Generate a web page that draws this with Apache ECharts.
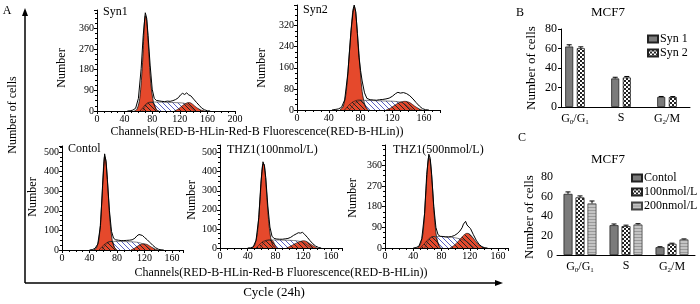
<!DOCTYPE html>
<html>
<head>
<meta charset="utf-8">
<script src="https://cdn.jsdelivr.net/npm/echarts@6/dist/echarts.min.js"></script>
<style>
html, body { margin: 0; padding: 0; background: #fff; }
#chart { width: 700px; height: 304px; }
</style>
</head>
<body>
<div id="chart"></div>
<script>
// ---- histogram data, [channel, count] ----
const syn1Outline = [[44,0],[48,1],[52,4],[56,12],[60,55],[64,185],[67,330],[70,428],[72,405],[74,330],[77,200],[80,95],[83,55],[86,46],[90,44],[94,42],[98,41],[102,43],[106,42],[110,45],[114,50],[118,58],[121,70],[124,77],[127,72],[130,79],[133,70],[136,66],[140,52],[144,38],[148,25],[152,12],[156,5],[160,1],[164,0]]
const syn1G1 = [[54,0],[58,8],[62,55],[66,210],[70,415],[72,395],[75,260],[78,120],[82,35],[86,6],[90,0]]
const syn1Tail = [[62,0],[66,12],[70,28],[76,38],[80,38],[83,30],[86,6],[88,0]]
const syn1S = [[66,0],[72,28],[78,38],[88,39],[98,38],[108,37],[118,36],[126,34],[132,26],[138,10],[142,0]]
const syn1G2 = [[112,0],[118,9],[124,24],[130,35],[134,37],[138,31],[144,16],[150,5],[156,0]]

const syn2Outline = [[44,0],[48,2],[52,4],[56,10],[60,38],[64,140],[68,300],[71,385],[72,398],[74,372],[76,290],[78,200],[80,150],[82,110],[85,65],[88,44],[92,39],[96,38],[100,37],[104,39],[108,40],[112,42],[116,45],[120,52],[124,62],[127,67],[130,64],[134,66],[138,62],[142,54],[146,42],[150,28],[154,15],[158,5],[162,1],[166,0]]
const syn2G1 = [[54,0],[58,12],[62,70],[66,220],[70,370],[72,392],[74,365],[78,215],[82,70],[86,15],[90,0]]
const syn2Tail = [[60,0],[64,14],[70,30],[78,38],[82,36],[86,14],[89,0]]
const syn2S = [[66,0],[74,28],[82,37],[92,36],[102,35],[112,34],[122,33],[130,30],[136,22],[142,6],[146,0]]
const syn2G2 = [[112,0],[118,8],[124,20],[130,30],[136,33],[142,28],[148,15],[154,4],[158,0]]

const contolOutline = [[40,0],[44,2],[48,8],[52,30],[56,125],[59,330],[62,490],[64,450],[66,360],[69,200],[72,95],[75,60],[78,52],[82,50],[86,48],[90,48],[94,49],[98,50],[102,52],[106,60],[109,72],[112,79],[114,72],[117,74],[120,64],[124,52],[128,38],[132,24],[136,12],[140,4],[144,1],[148,0]]
const contolG1 = [[46,0],[50,10],[54,60],[58,250],[62,478],[64,455],[67,300],[70,140],[73,50],[76,14],[80,0]]
const contolTail = [[54,0],[58,16],[63,32],[68,42],[73,44],[76,16],[79,0]]
const contolS = [[58,0],[64,28],[70,43],[80,44],[90,43],[100,42],[108,40],[114,36],[120,27],[126,10],[130,0]]
const contolG2 = [[100,0],[106,10],[112,24],[118,32],[124,28],[130,15],[136,4],[140,0]]

const thz100Outline = [[40,0],[44,1],[48,6],[52,40],[56,160],[59,340],[62,452],[64,430],[66,370],[69,220],[72,110],[75,62],[78,50],[82,47],[86,46],[90,46],[94,48],[98,50],[102,56],[106,66],[110,74],[113,80],[116,78],[119,82],[122,72],[126,56],[130,38],[134,22],[138,10],[142,3],[146,0]]
const thz100G1 = [[46,0],[50,15],[54,80],[58,270],[62,440],[64,438],[67,300],[70,150],[73,55],[76,15],[80,0]]
const thz100Tail = [[52,0],[57,18],[62,34],[70,42],[76,38],[80,10],[82,0]]
const thz100S = [[58,0],[64,30],[72,42],[82,42],[92,41],[102,40],[110,38],[118,32],[124,20],[130,6],[134,0]]
const thz100G2 = [[96,0],[102,10],[108,22],[114,32],[120,38],[124,36],[130,22],[136,8],[140,0]]

const thz500Outline = [[40,0],[44,2],[48,8],[52,40],[56,150],[59,320],[62,408],[64,390],[66,320],[69,180],[72,90],[75,58],[78,51],[82,50],[86,48],[90,48],[94,50],[98,54],[102,62],[106,74],[109,88],[111,104],[113,112],[114,116],[116,100],[118,104],[121,84],[125,58],[129,34],[133,16],[137,6],[141,1],[145,0]]
const thz500G1 = [[46,0],[50,15],[54,70],[58,250],[62,395],[64,380],[67,270],[70,130],[73,45],[76,12],[80,0]]
const thz500Tail = [[50,0],[56,20],[62,40],[68,50],[72,46],[76,14],[78,0]]
const thz500S = [[56,0],[62,34],[68,50],[80,50],[90,48],[100,44],[108,38],[116,28],[122,12],[126,0]]
const thz500G2 = [[92,0],[98,12],[104,30],[110,52],[116,64],[120,60],[126,38],[132,15],[138,3],[142,0]]

// ---- bar data (panels B and C) ----
const phaseCats = ['G0/G1', 'S', 'G2/M']
const syn1Vals = [62, 29.3, 10.3]
const syn1Err = [1.8, 1.2, 0.5]
const syn2Vals = [60.3, 30.3, 10.2]
const syn2Err = [1.4, 1.0, 0.5]
const contolVals = [62.7, 30.6, 8]
const contolErr = [2, 1.2, 0.5]
const thz100Vals = [59.1, 29.6, 11.5]
const thz100Err = [1.5, 1.0, 0.6]
const thz200Vals = [52.9, 31.3, 16]
const thz200Err = [2.5, 0.8, 0.5]

const SERIF = "'Liberation Serif', 'Times New Roman', serif"
const RED = '#e5492c'

// diagonal hatch pattern
function hatch(bg, fg, size) {
  const c = document.createElement('canvas')
  c.width = c.height = size
  const g = c.getContext('2d')
  if (bg) { g.fillStyle = bg; g.fillRect(0, 0, size, size) }
  g.strokeStyle = fg
  g.lineWidth = 1
  g.beginPath()
  for (let x0 = -size; x0 <= size; x0 += size) {
    g.moveTo(x0, 0)
    g.lineTo(x0 + size, size)
  }
  g.stroke()
  return { image: c, repeat: 'repeat' }
}
function checker() {
  const c = document.createElement('canvas')
  c.width = c.height = 4
  const g = c.getContext('2d')
  g.fillStyle = '#fff'; g.fillRect(0, 0, 4, 4)
  g.fillStyle = '#222'; g.fillRect(0, 0, 2, 2); g.fillRect(2, 2, 2, 2)
  return { image: c, repeat: 'repeat' }
}
function stripes() {
  const c = document.createElement('canvas')
  c.width = c.height = 3
  const g = c.getContext('2d')
  g.fillStyle = '#c4c4c4'; g.fillRect(0, 0, 3, 3)
  g.fillStyle = '#9a9a9a'; g.fillRect(0, 0, 3, 1)
  return { image: c, repeat: 'repeat' }
}
const redHatch = hatch(RED, '#222', 5)
const blueHatch = hatch('#fff', '#5862c4', 5)

const histPanels = [
  { label: 'Syn1', lx: 103, ly: 12, nx: 62, ny: 68, grid: { left: 97, top: 10, width: 138, height: 101 }, xMax: 200, yMax: 440, yStep: 90, outline: syn1Outline, g1: syn1G1, tail: syn1Tail, s: syn1S, g2: syn1G2 },
  { label: 'Syn2', lx: 303, ly: 10, nx: 262, ny: 68, grid: { left: 297, top: 5, width: 143, height: 105 }, xMax: 180, yMax: 398, yStep: 80, outline: syn2Outline, g1: syn2G1, tail: syn2Tail, s: syn2S, g2: syn2G2 },
  { label: 'Contol', lx: 68, ly: 149, nx: 33, ny: 197, grid: { left: 62, top: 146, width: 121, height: 104 }, xMax: 176, yMax: 530, yStep: 100, outline: contolOutline, g1: contolG1, tail: contolTail, s: contolS, g2: contolG2 },
  { label: 'THZ1(100nmol/L)', lx: 227, ly: 150, nx: 192, ny: 200, grid: { left: 220, top: 145, width: 122, height: 103 }, xMax: 176, yMax: 540, yStep: 100, outline: thz100Outline, g1: thz100G1, tail: thz100Tail, s: thz100S, g2: thz100G2 },
  { label: 'THZ1(500nmol/L)', lx: 393, ly: 150, nx: 353, ny: 198, grid: { left: 385, top: 145, width: 123, height: 103 }, xMax: 174, yMax: 448, yStep: 90, outline: thz500Outline, g1: thz500G1, tail: thz500Tail, s: thz500S, g2: thz500G2 },
]

const grids = []
const xAxes = []
const yAxes = []
const series = []
const graphics = []

const axisBase = {
  axisLine: { lineStyle: { color: '#000', width: 1 } },
  axisTick: { length: 3, lineStyle: { color: '#000' } },
  minorTick: { show: true, splitNumber: 4, length: 2, lineStyle: { color: '#000' } },
  splitLine: { show: false },
}

histPanels.forEach((p, i) => {
  grids.push(p.grid)
  xAxes.push(Object.assign({}, axisBase, {
    gridIndex: i, type: 'value', min: 0, max: p.xMax, interval: 40,
    axisLabel: { color: '#000', fontFamily: SERIF, fontSize: 10, margin: 3, showMaxLabel: p.xMax % 40 === 0 },
  }))
  yAxes.push(Object.assign({}, axisBase, {
    gridIndex: i, type: 'value', min: 0, max: p.yMax, interval: p.yStep,
    axisLabel: { color: '#000', fontFamily: SERIF, fontSize: 10, margin: 3, showMaxLabel: false },
  }))
  const base = { type: 'line', xAxisIndex: i, yAxisIndex: i, symbol: 'none', silent: true }
  series.push(Object.assign({}, base, { data: p.g1, smooth: 0.3, lineStyle: { color: '#111', width: 0.8 }, areaStyle: { color: RED, opacity: 1 } }))
  series.push(Object.assign({}, base, { data: p.s, smooth: 0.3, lineStyle: { color: '#333', width: 0.6 }, areaStyle: { color: blueHatch, opacity: 1 } }))
  series.push(Object.assign({}, base, { data: p.tail, smooth: 0.3, lineStyle: { color: '#111', width: 0.6 }, areaStyle: { color: redHatch, opacity: 1 } }))
  series.push(Object.assign({}, base, { data: p.g2, smooth: 0.3, lineStyle: { color: '#111', width: 0.6 }, areaStyle: { color: redHatch, opacity: 1 } }))
  series.push(Object.assign({}, base, { data: p.outline, lineStyle: { color: '#000', width: 1 } }))
  graphics.push({ type: 'text', x: p.lx, y: p.ly, style: { text: p.label, font: '12px ' + SERIF, fill: '#000', textAlign: 'left', textVerticalAlign: 'middle', align: 'left', verticalAlign: 'middle' } })
  graphics.push({ type: 'text', x: p.nx, y: p.ny, rotation: Math.PI / 2, style: { text: 'Number', font: '12px ' + SERIF, fill: '#000', textAlign: 'center', textVerticalAlign: 'middle', align: 'center', verticalAlign: 'middle' } })
})

// ---- bar panels ----
const subLabel = (v) => v.split(/(\d)/).filter(t => t).map(t => /\d/.test(t) ? '{s|' + t + '}' : '{n|' + t + '}').join('')
const catLabel = {
  color: '#000', margin: 5, interval: 0, formatter: subLabel,
  rich: {
    n: { fontFamily: SERIF, fontSize: 12, color: '#000' },
    s: { fontFamily: SERIF, fontSize: 7, color: '#000', verticalAlign: 'bottom', padding: [7, 0, 0, 0] },
  },
}
const valueAxis = (gi) => Object.assign({}, axisBase, {
  gridIndex: gi, type: 'value', min: 0, max: 80, interval: 20,
  minorTick: { show: false },
  axisLabel: { color: '#000', fontFamily: SERIF, fontSize: 12, margin: 4 },
})

// B: bars grid (5) + axis-only grid (6) so the y axis sits a bit right of the first band
grids.push({ left: 552, top: 29, width: 138, height: 78 })
xAxes.push({ gridIndex: 5, type: 'category', data: phaseCats, axisLine: { show: false }, axisTick: { alignWithLabel: true, interval: 0, length: 3, lineStyle: { color: '#000' } }, axisLabel: catLabel })
yAxes.push({ gridIndex: 5, type: 'value', min: 0, max: 80, show: false })
grids.push({ left: 561, top: 29, width: 129, height: 78 })
xAxes.push({ gridIndex: 6, type: 'value', min: 0, max: 1, axisLine: { lineStyle: { color: '#000' } }, axisTick: { show: false }, axisLabel: { show: false }, splitLine: { show: false } })
yAxes.push(valueAxis(6))
// C
grids.push({ left: 557, top: 177, width: 138, height: 78 })
xAxes.push({ gridIndex: 7, type: 'category', data: phaseCats, axisLine: { lineStyle: { color: '#000' } }, axisTick: { alignWithLabel: true, interval: 0, length: 3, lineStyle: { color: '#000' } }, axisLabel: catLabel })
yAxes.push(valueAxis(7))

const solidGrey = { color: '#7b7b7b', borderColor: '#222', borderWidth: 0.8 }
const barSets = [
  { gi: 5, name: 'Syn 1', vals: syn1Vals, err: syn1Err, style: solidGrey, w: 8, gap: '45%', off: -5.8 },
  { gi: 5, name: 'Syn 2', vals: syn2Vals, err: syn2Err, style: { color: checker(), borderColor: '#222', borderWidth: 0.8 }, w: 8, gap: '45%', off: 5.8 },
  { gi: 7, name: 'Contol', vals: contolVals, err: contolErr, style: solidGrey, w: 9, gap: '33%', off: -12 },
  { gi: 7, name: '100nmol/L', vals: thz100Vals, err: thz100Err, style: { color: checker(), borderColor: '#222', borderWidth: 0.8 }, w: 9, gap: '33%', off: 0 },
  { gi: 7, name: '200nmol/L', vals: thz200Vals, err: thz200Err, style: { color: stripes(), borderColor: '#444', borderWidth: 0.8 }, w: 9, gap: '33%', off: 12 },
]
barSets.forEach(b => {
  series.push({ type: 'bar', name: b.name, xAxisIndex: b.gi, yAxisIndex: b.gi, data: b.vals, barWidth: b.w, barGap: b.gap, itemStyle: b.style, silent: true })
})
barSets.forEach(b => {
  series.push({
    type: 'custom', xAxisIndex: b.gi, yAxisIndex: b.gi, silent: true, z: 5,
    data: b.vals.map((v, k) => [k, v, b.err[k]]),
    renderItem: (params, api) => {
      const k = api.value(0), v = api.value(1), e = api.value(2)
      const p0 = api.coord([k, v])
      const p1 = api.coord([k, v + e])
      const x = p0[0] + b.off
      const st = { stroke: '#000', lineWidth: 1 }
      return {
        type: 'group', children: [
          { type: 'line', shape: { x1: x, y1: p0[1], x2: x, y2: p1[1] }, style: st },
          { type: 'line', shape: { x1: x - 2.5, y1: p1[1], x2: x + 2.5, y2: p1[1] }, style: st },
        ],
      }
    },
  })
})

const legendBase = {
  orient: 'vertical', itemWidth: 10, itemHeight: 7, itemGap: 2, padding: 0, icon: 'rect', selectedMode: false,
  textStyle: { fontFamily: SERIF, fontSize: 12, color: '#000', lineHeight: 8, padding: [0, 0, 0, -3] },
}

const txt = (text, x, y, size, opts) => Object.assign({
  type: 'text', x, y,
  style: { text, font: size + 'px ' + SERIF, fill: '#000', textAlign: 'center', textVerticalAlign: 'middle', align: 'center', verticalAlign: 'middle' },
}, opts || {})

graphics.push(
  txt('A', 7, 11, 12),
  txt('B', 520, 13, 12),
  txt('C', 522, 138, 12),
  txt('MCF7', 608, 13, 13),
  txt('MCF7', 608, 160, 13),
  txt('Number of cells', 13, 115, 12, { rotation: Math.PI / 2 }),
  txt('Number of cells', 532, 68, 13, { rotation: Math.PI / 2 }),
  txt('Number of cells', 530, 217, 13, { rotation: Math.PI / 2 }),
  txt('Channels(RED-B-HLin-Red-B Fluorescence(RED-B-HLin))', 257, 132, 12),
  txt('Channels(RED-B-HLin-Red-B Fluorescence(RED-B-HLin))', 281, 273, 12),
  txt('Cycle (24h)', 274, 293, 13),
  { type: 'line', shape: { x1: 25, y1: 15, x2: 25, y2: 283 }, style: { stroke: '#000', lineWidth: 1.5 } },
  { type: 'polygon', shape: { points: [[25, 8], [22, 16], [28, 16]] }, style: { fill: '#000' } },
  { type: 'line', shape: { x1: 25, y1: 283, x2: 496, y2: 283 }, style: { stroke: '#000', lineWidth: 1.5 } },
  { type: 'polygon', shape: { points: [[503, 283], [495, 280], [495, 286]] }, style: { fill: '#000' } },
)

const myEcharts = echarts.init(document.getElementById('chart'))
myEcharts.setOption({
  animation: false,
  backgroundColor: '#fff',
  textStyle: { fontFamily: SERIF },
  grid: grids,
  xAxis: xAxes,
  yAxis: yAxes,
  legend: [
    Object.assign({}, legendBase, { data: ['Syn 1', 'Syn 2'], left: 647, top: 33 }),
    Object.assign({}, legendBase, { data: ['Contol', '100nmol/L', '200nmol/L'], left: 631, top: 172 }),
  ],
  series: series,
  graphic: graphics,
})
</script>
</body>
</html>
